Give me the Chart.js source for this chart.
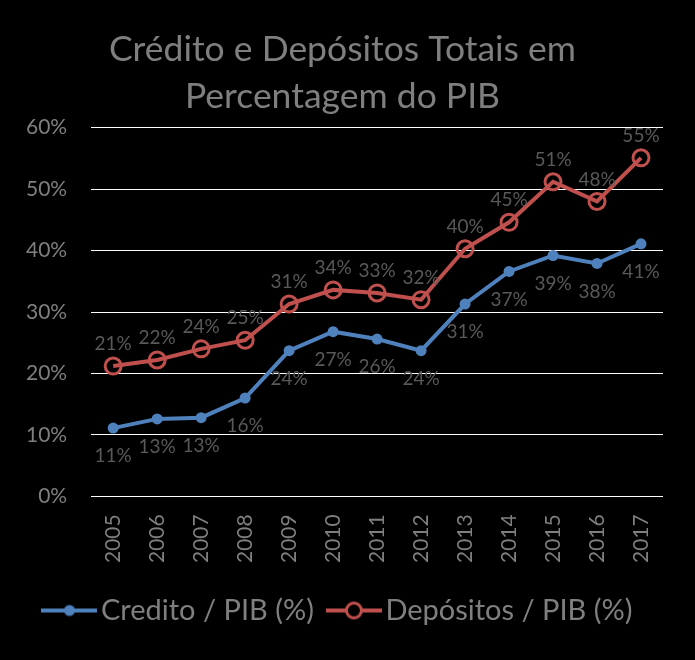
<!DOCTYPE html>
<html>
<head>
<meta charset="utf-8">
<script src="https://cdn.jsdelivr.net/npm/chart.js@4"></script>
<style>
  html, body { margin: 0; padding: 0; background: #000; }
  #wrap { width: 695px; height: 660px; }
</style>
</head>
<body>
<div id="wrap"><canvas id="chart" width="695" height="660"></canvas></div>
<script>
// ── Data ──────────────────────────────────────────
const years = ['2005', '2006', '2007', '2008', '2009', '2010', '2011', '2012', '2013', '2014', '2015', '2016', '2017'];
const credito = [11.1, 12.6, 12.8, 16.0, 23.7, 26.8, 25.6, 23.7, 31.3, 36.6, 39.2, 37.9, 41.1];
const depositos = [21.2, 22.2, 24.0, 25.4, 31.3, 33.6, 33.1, 32.0, 40.3, 44.6, 51.2, 48.0, 55.1];
const yTicks = [0, 10, 20, 30, 40, 50, 60];

const BLUE = '#4F81BD';
const RED = '#C0504D';
const FONT = "Lato, 'Open Sans', sans-serif";

// small legend marker: line with a point on it
function legendMarker(color, filled) {
  const c = document.createElement('canvas');
  c.width = 56; c.height = 22;
  const g = c.getContext('2d');
  g.strokeStyle = color;
  g.lineWidth = 4;
  g.beginPath(); g.moveTo(0, 11); g.lineTo(56, 11); g.stroke();
  g.beginPath();
  if (filled) {
    g.fillStyle = color;
    g.arc(28, 11, 5.5, 0, Math.PI * 2);
    g.fill();
  } else {
    g.lineWidth = 3;
    g.fillStyle = '#000';
    g.arc(28, 11, 7.5, 0, Math.PI * 2);
    g.fill(); g.stroke();
  }
  return c;
}

// data labels: red above, blue below
const valueLabels = {
  id: 'valueLabels',
  afterDatasetsDraw(chart) {
    const ctx = chart.ctx;
    ctx.save();
    ctx.font = "19px " + FONT;
    ctx.fillStyle = '#595959';
    ctx.textAlign = 'center';
    ctx.textBaseline = 'middle';
    chart.data.datasets.forEach((ds, i) => {
      const meta = chart.getDatasetMeta(i);
      const off = i === 0 ? 28 : -22;
      meta.data.forEach((pt, j) => {
        ctx.fillText(Math.round(ds.data[j]) + '%', pt.x, pt.y + off);
      });
    });
    ctx.restore();
  }
};

const bg = {
  id: 'bg',
  beforeDraw(chart) {
    const ctx = chart.ctx;
    ctx.save();
    ctx.fillStyle = '#000';
    ctx.fillRect(0, 0, chart.width, chart.height);
    ctx.restore();
  }
};

new Chart(document.getElementById('chart'), {
  type: 'line',
  data: {
    labels: years,
    datasets: [{
      label: 'Credito / PIB (%)',
      data: credito,
      borderColor: BLUE,
      backgroundColor: BLUE,
      borderWidth: 4,
      pointRadius: 5.5,
      pointBackgroundColor: BLUE,
      pointBorderWidth: 0,
      tension: 0
    }, {
      label: 'Depósitos / PIB (%)',
      data: depositos,
      borderColor: RED,
      backgroundColor: '#000',
      borderWidth: 4,
      pointRadius: 8,
      pointBorderWidth: 3,
      pointBackgroundColor: 'rgba(0,0,0,0)',
      pointBorderColor: RED,
      tension: 0
    }]
  },
  options: {
    responsive: false,
    animation: false,
    layout: { padding: { left: 2, right: 12, top: 26, bottom: 25 } },
    plugins: {
      title: {
        display: true,
        text: ['Crédito e Depósitos Totais em', 'Percentagem do PIB'],
        color: '#7f7f7f',
        font: { family: FONT, size: 35.5, weight: 'normal', lineHeight: 1.32 },
        padding: { top: 0, bottom: 8 }
      },
      legend: {
        position: 'bottom',
        labels: {
          color: '#7f7f7f',
          font: { family: FONT, size: 29 },
          usePointStyle: true,
          pointStyleWidth: 34,
          padding: 23,
          generateLabels: (chart) => [
            { text: 'Credito / PIB (%)', pointStyle: legendMarker(BLUE, true), fontColor: '#7f7f7f', datasetIndex: 0, lineWidth: 0 },
            { text: 'Depósitos / PIB (%)', pointStyle: legendMarker(RED, false), fontColor: '#7f7f7f', datasetIndex: 1, lineWidth: 0 }
          ]
        }
      },
      tooltip: { enabled: false }
    },
    scales: {
      x: {
        offset: true,
        grid: { display: false, offset: true },
        border: { display: false },
        ticks: {
          color: '#7f7f7f',
          font: { family: FONT, size: 21 },
          maxRotation: 90, minRotation: 90,
          padding: 10
        }
      },
      y: {
        min: 0, max: 60,
        afterBuildTicks: (axis) => { axis.ticks = yTicks.map(v => ({ value: v })); },
        grid: { color: '#ffffff', lineWidth: 1, drawTicks: false },
        border: { display: false },
        ticks: {
          color: '#7f7f7f',
          font: { family: FONT, size: 21 },
          padding: 24,
          callback: (v) => v + '%'
        }
      },
      // empty right-hand spacer so the plot ends where the reference's does
      yRight: {
        position: 'right',
        grid: { display: false },
        border: { display: false },
        ticks: { display: false },
        afterFit: (axis) => { axis.width = 20; }
      }
    }
  },
  plugins: [bg, valueLabels]
});
</script>
</body>
</html>
